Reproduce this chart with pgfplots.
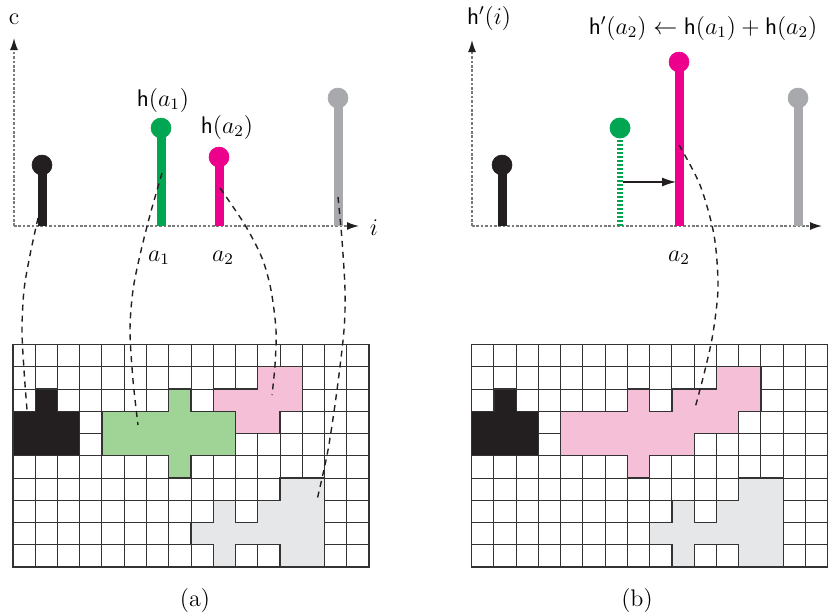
\documentclass[border=0pt]{standalone}
\usepackage{pgfplots}
\pgfplotsset{compat=1.18}
\usetikzlibrary{arrows.meta}
\definecolor{blk}{HTML}{231F20}
\definecolor{grn}{HTML}{00A651}
\definecolor{mag}{HTML}{EC008C}
\definecolor{gry}{HTML}{A7A9AC}
\definecolor{grnfill}{HTML}{A0D396}
\definecolor{pinkfill}{HTML}{F5BFD7}
\definecolor{grayfill}{HTML}{E6E7E8}
\definecolor{gridc}{HTML}{333333}
\definecolor{axc}{HTML}{7A7A7A}
\pgfplotsset{
  gridax/.style={scale only axis, width=178pt, height=111.25pt,
    xmin=0, xmax=16, ymin=0, ymax=10, y dir=reverse,
    xtick={0,...,16}, ytick={0,...,10}, xticklabels={}, yticklabels={},
    tick style={draw=none}, grid=major,
    grid style={draw=gridc, line width=0.5pt},
    axis line style={draw=gridc, line width=0.6pt}, clip=false},
  shape/.style={draw=gridc, line width=0.6pt, fill=#1},
  stem/.style={#1, line width=4.5pt, mark=*, mark size=5pt, mark indices={2},
    mark options={line width=0.3pt, fill=#1, draw=#1}},
  axarrow/.style={axc, line width=0.7pt, dash pattern=on 1.3pt off 0.9pt,
    -{Latex[length=6pt,width=4pt,color=blk]}},
}
\begin{document}
\begin{tikzpicture}
% ---------- grid (a)
\begin{axis}[gridax, at={(6.5pt,22.5pt)}, anchor=south west]
\addplot[shape=blk] coordinates {(1,2)(2,2)(2,3)(3,3)(3,5)(0,5)(0,3)(1,3)} --cycle;
\addplot[shape=grnfill] coordinates {(7,2)(8,2)(8,3)(10,3)(10,5)(8,5)(8,6)(7,6)(7,5)(4,5)(4,3)(7,3)} --cycle;
\addplot[shape=pinkfill] coordinates {(11,1)(13,1)(13,3)(12,3)(12,4)(10,4)(10,3)(9,3)(9,2)(11,2)} --cycle;
\addplot[shape=grayfill] coordinates {(12,6)(14,6)(14,10)(12,10)(12,9)(10,9)(10,10)(9,10)(9,9)(8,9)(8,8)(9,8)(9,7)(10,7)(10,8)(11,8)(11,7)(12,7)} --cycle;
\end{axis}
% ---------- grid (b)
\begin{axis}[gridax, at={(235.85pt,22.5pt)}, anchor=south west]
\addplot[shape=blk] coordinates {(1,2)(2,2)(2,3)(3,3)(3,5)(0,5)(0,3)(1,3)} --cycle;
\addplot[shape=pinkfill] coordinates {(11,1)(13,1)(13,3)(12,3)(12,4)(10,4)(10,5)(8,5)(8,6)(7,6)(7,5)(4,5)(4,3)(7,3)(7,2)(8,2)(8,3)(9,3)(9,2)(11,2)} --cycle;
\addplot[shape=grayfill] coordinates {(12,6)(14,6)(14,10)(12,10)(12,9)(10,9)(10,10)(9,10)(9,9)(8,9)(8,8)(9,8)(9,7)(10,7)(10,8)(11,8)(11,7)(12,7)} --cycle;
\end{axis}
% ---------- main (pixel coordinates)
\begin{axis}[at={(0,0)}, anchor=south west, scale only axis, width=414pt, height=306pt,
  xmin=0, xmax=828, ymin=0, ymax=612, y dir=reverse, axis lines=none, clip=false,
  font=\fontsize{12}{14}\selectfont]
\coordinate (SW) at (axis cs:0,612);
\coordinate (NE) at (axis cs:828,0);
% axes (a)
\addplot[axarrow] coordinates {(14,226)(14,38)};
\addplot[axarrow] coordinates {(14,226)(359,226)};
% axes (b)
\addplot[axarrow] coordinates {(472,226)(472,40)};
\addplot[axarrow] coordinates {(472,226)(822,226)};
% stems (a)
\addplot[stem=blk] coordinates {(42,226)(42,165)};
\addplot[stem=grn] coordinates {(161,226)(161,128)};
\addplot[stem=mag] coordinates {(219,226)(219,157)};
\addplot[stem=gry] coordinates {(338,226)(338,98)};
% stems (b)
\addplot[stem=blk] coordinates {(502,226)(502,165)};
\addplot[grn, line width=2.6pt, dash pattern=on 1.1pt off 0.9pt] coordinates {(620,226)(620,133)};
\addplot[grn, only marks, mark=*, mark size=5pt] coordinates {(620,128)};
\addplot[stem=mag] coordinates {(679,226)(679,62)};
\addplot[stem=gry] coordinates {(798,226)(798,98)};
\addplot[blk, line width=0.6pt, -{Latex[length=7pt,width=4.5pt]}] coordinates {(623,182)(676,182)};
% dashed links
\addplot[blk, line width=0.7pt, dash pattern=on 3pt off 2.5pt, smooth] coordinates {(38,218)(30,255)(24,290)(22,330)(24,370)(27,410)};
\addplot[blk, line width=0.7pt, dash pattern=on 3pt off 2.5pt, smooth] coordinates {(162,173)(150,215)(140,255)(133,290)(130,330)(133,380)(138,425)};
\addplot[blk, line width=0.7pt, dash pattern=on 3pt off 2.5pt, smooth] coordinates {(220,188)(245,225)(262,258)(271,290)(276,330)(275,365)(272,395)};
\addplot[blk, line width=0.7pt, dash pattern=on 3pt off 2.5pt, smooth] coordinates {(338,197)(342,240)(345,290)(344,330)(337,390)(328,450)(317,500)};
\addplot[blk, line width=0.7pt, dash pattern=on 3pt off 2.5pt, smooth] coordinates {(679,145)(700,185)(714,235)(718,287)(713,333)(705,370)(695,408)};
% labels
\node at (axis cs:14,19) {c};
\node at (axis cs:374,228) {$i$};
\node at (axis cs:163,100) {$\mathsf{h}(a_1)$};
\node at (axis cs:227,127) {$\mathsf{h}(a_2)$};
\node at (axis cs:159,258) {$a_1$};
\node at (axis cs:223,258) {$a_2$};
\node at (axis cs:489,18) {$\mathsf{h}'(i)$};
\node at (axis cs:703,28) {$\mathsf{h}'(a_2) \leftarrow \mathsf{h}(a_1) + \mathsf{h}(a_2)$};
\node at (axis cs:679,258) {$a_2$};
\node at (axis cs:195,600) {(a)};
\node at (axis cs:637,600) {(b)};
\end{axis}
\pgfresetboundingbox
\path (SW) rectangle (NE);
\end{tikzpicture}
\end{document}
